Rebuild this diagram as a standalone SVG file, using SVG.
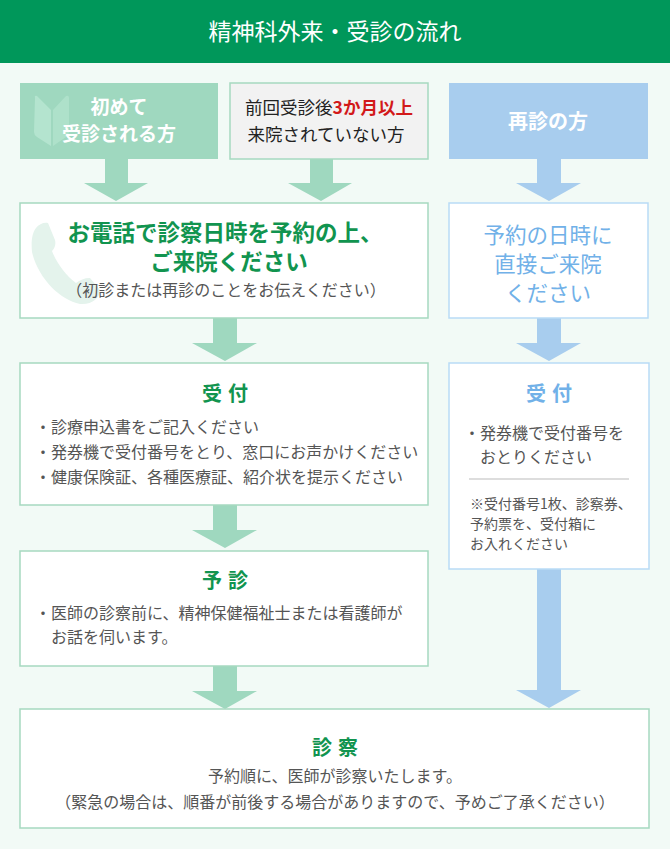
<svg xmlns="http://www.w3.org/2000/svg" width="670" height="849" viewBox="0 0 670 849">
<style>
text{font-family:"Noto Sans CJK JP","Noto Sans",sans-serif}
.gbox{fill:#fff;stroke:#a6d9c0;stroke-width:1.5}
.bbox{fill:#fff;stroke:#b9dbf6;stroke-width:1.5}
.garr{fill:#9fd8bf}
.barr{fill:#a8cdee}
.ttl{font-weight:bold;fill:#11944f;text-anchor:middle}
.btl{fill:#71b1e8;text-anchor:middle}
.body{fill:#555;font-size:16px}
.note{fill:#555;font-size:14px}
.c{text-anchor:middle}
</style>
<rect x="0" y="0" width="670" height="849" fill="#f2faf6"/>
<g id="header">
<rect x="0" y="0" width="670" height="63" fill="#00975a"/>
<text x="335" y="40" font-size="23" fill="#fff" text-anchor="middle">精神科外来・受診の流れ</text>
</g>
<g id="connectors">
<path class="garr" d="M105,159h23v24h20l-32,18l-32,-18h21z"/>
<path class="garr" d="M310,159h23v24h19l-31,18l-33,-18h22z"/>
<path class="garr" d="M213,318h24v25h20l-32,18l-33,-18h21z"/>
<path class="garr" d="M213,505h24v25h20l-32,18l-33,-18h21z"/>
<path class="garr" d="M213,666h24v25h20l-32,18l-33,-18h21z"/>
<path class="barr" d="M537,159h24v24h20l-32,18l-33,-18h21z"/>
<path class="barr" d="M537,318h24v25h20l-32,18l-33,-18h21z"/>
<path class="barr" d="M537,569h24v121h20l-32,18l-33,-18h21z"/>
</g>
<g id="first-visit">
<rect x="20" y="83" width="198" height="76" fill="#9fd8bf"/>
<path d="M35,98 Q34,95 37,96 L51,110 L51,146 L37,137 Q34,135 34,132 Z" fill="#b4e4cf"/>
<path d="M53,110 L66,96 Q69,95 69,98 L69,132 Q69,135 66,137 L53,146 Z" fill="#aee1ca"/>
<text x="119" y="114" font-size="19" font-weight="bold" fill="#fff" text-anchor="middle">初めて</text>
<text x="119" y="141" font-size="19" font-weight="bold" fill="#fff" text-anchor="middle">受診される方</text>
</g>
<g id="returning-3months">
<rect x="230" y="83" width="198" height="76" fill="#f2f2f2" stroke="#a6d9c0" stroke-width="1.5"/>
<text x="329" y="114" font-size="17.5" fill="#222" text-anchor="middle">前回受診後<tspan font-weight="bold" fill="#d2191a">3か月以上</tspan></text>
<text x="326" y="141" font-size="17.5" fill="#222" text-anchor="middle">来院されていない方</text>
</g>
<g id="revisit">
<rect x="449" y="83" width="199" height="76" fill="#a8cdee"/>
<text x="548" y="129" font-size="20" font-weight="bold" fill="#fff" text-anchor="middle">再診の方</text>
</g>
<g id="phone-reservation">
<rect class="gbox" x="20" y="203" width="408" height="115"/>
<path d="M36,228 C39,224 44,222 48,223 L55,240 C56,244 55,248 52,251 C56,262 66,276 76,283 C80,280 84,278 90,278 L100,290 C100,298 92,305 80,304 C60,300 38,278 32,252 C31,242 32,233 36,228 Z" fill="#e4f3ec"/>
<text class="ttl" x="225" y="241" font-size="22.5">お電話で診察日時を予約の上、</text>
<text class="ttl" x="229" y="270" font-size="22.5">ご来院ください</text>
<text x="226" y="296" font-size="16" fill="#555" text-anchor="middle">（初診または再診のことをお伝えください）</text>
</g>
<g id="direct-visit">
<rect class="bbox" x="449" y="203" width="199" height="115"/>
<text class="btl" x="548" y="243" font-size="21.5">予約の日時に</text>
<text class="btl" x="548" y="272" font-size="21.5">直接ご来院</text>
<text class="btl" x="548" y="301" font-size="21.5">ください</text>
</g>
<g id="reception">
<rect class="gbox" x="20" y="363" width="408" height="142"/>
<text class="ttl" x="228" y="401" font-size="20" letter-spacing="6">受付</text>
<text class="body" x="35" y="433">・診療申込書をご記入ください</text>
<text class="body" x="35" y="458">・発券機で受付番号をとり、窓口にお声かけください</text>
<text class="body" x="35" y="483">・健康保険証、各種医療証、紹介状を提示ください</text>
</g>
<g id="reception-revisit">
<rect class="bbox" x="449" y="363" width="200" height="206"/>
<text class="btl" x="552" y="401" font-size="20" font-weight="bold" letter-spacing="6">受付</text>
<text class="body" x="464" y="439">・発券機で受付番号を</text>
<text class="body" x="480" y="463">おとりください</text>
<line x1="469" y1="479" x2="629" y2="479" stroke="#bbb" stroke-width="1"/>
<text class="note" x="470" y="509">※受付番号1枚、診察券、</text>
<text class="note" x="470" y="529">予約票を、受付箱に</text>
<text class="note" x="470" y="549">お入れください</text>
</g>
<g id="pre-exam">
<rect class="gbox" x="20" y="551" width="408" height="115"/>
<text class="ttl" x="228" y="588" font-size="20" letter-spacing="6">予診</text>
<text class="body" x="35" y="619">・医師の診察前に、精神保健福祉士または看護師が</text>
<text class="body" x="51" y="643">お話を伺います。</text>
</g>
<g id="examination">
<rect class="gbox" x="20" y="709" width="629" height="119"/>
<text class="ttl" x="338" y="755" font-size="20" letter-spacing="6">診察</text>
<text class="body c" x="335" y="782">予約順に、医師が診察いたします。</text>
<text class="body c" x="335" y="808">（緊急の場合は、順番が前後する場合がありますので、予めご了承ください）</text>
</g>
</svg>
